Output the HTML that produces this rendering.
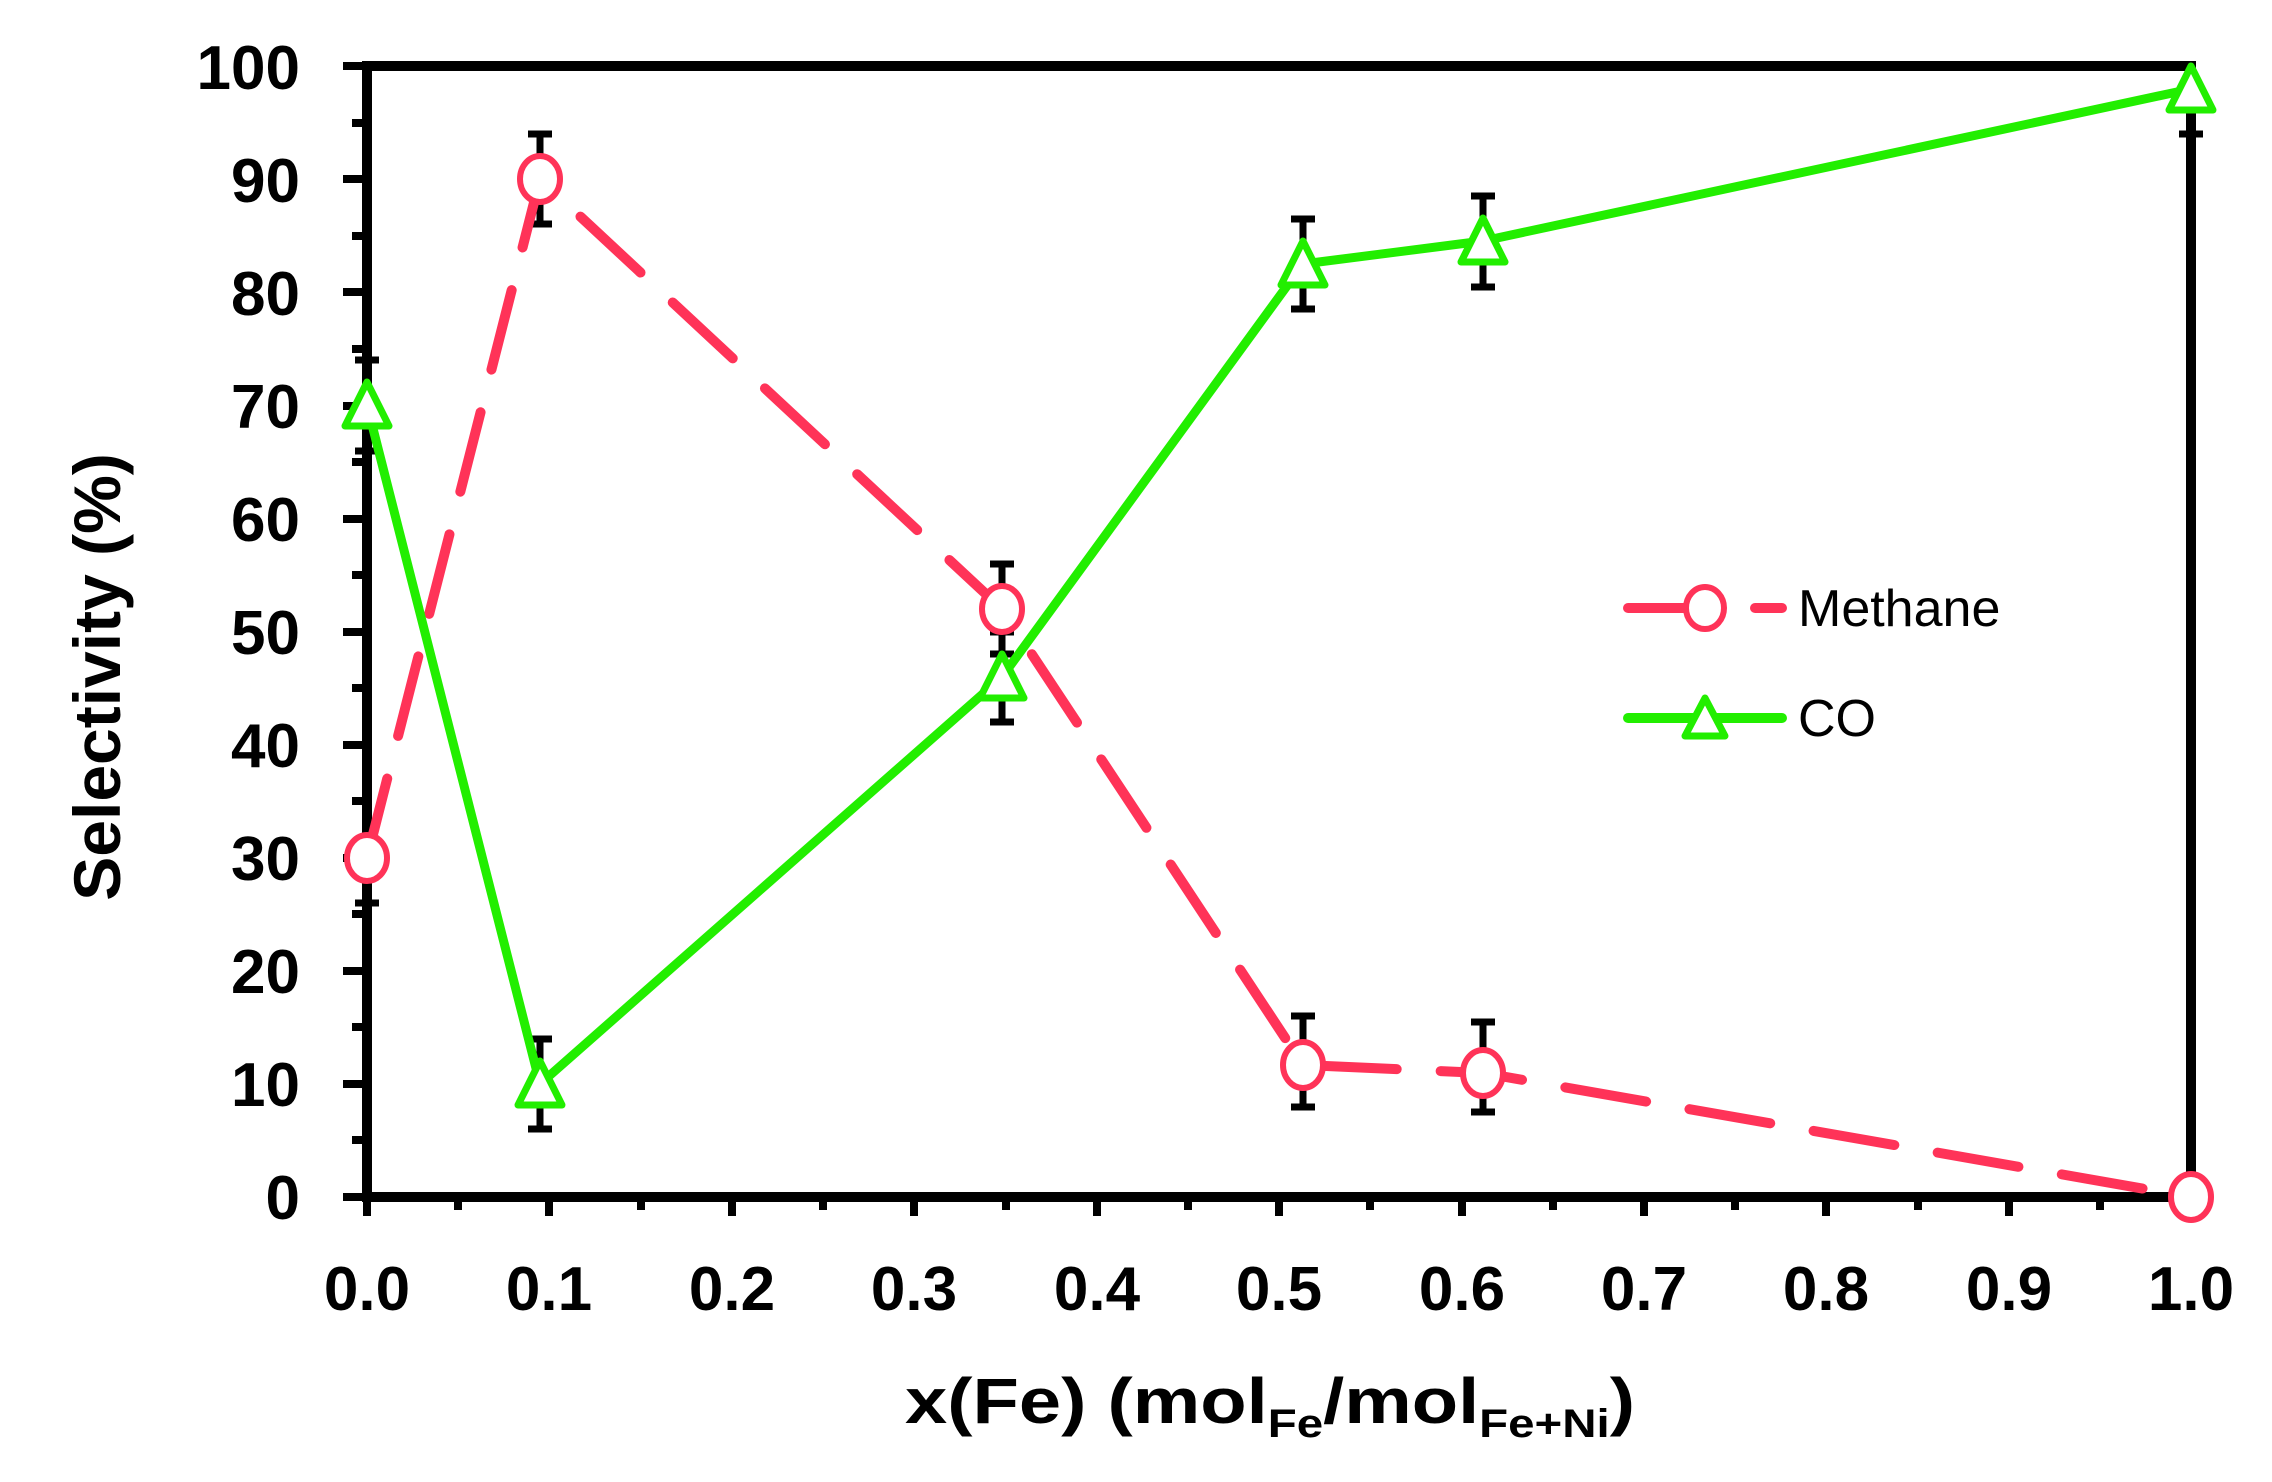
<!DOCTYPE html>
<html><head><meta charset="utf-8"><style>
html,body{margin:0;padding:0;background:#fff;}
svg{display:block;}
text{font-family:"Liberation Sans",sans-serif;font-weight:bold;fill:#000;}
</style></head><body>
<svg width="2272" height="1482" viewBox="0 0 2272 1482" xmlns="http://www.w3.org/2000/svg">
<g stroke="#000" stroke-width="8">
<line x1="343" y1="1197" x2="367" y2="1197"/><line x1="352" y1="1140" x2="367" y2="1140"/>
<line x1="343" y1="1084" x2="367" y2="1084"/><line x1="352" y1="1027" x2="367" y2="1027"/>
<line x1="343" y1="971" x2="367" y2="971"/><line x1="352" y1="914" x2="367" y2="914"/>
<line x1="343" y1="858" x2="367" y2="858"/><line x1="352" y1="801" x2="367" y2="801"/>
<line x1="343" y1="745" x2="367" y2="745"/><line x1="352" y1="688" x2="367" y2="688"/>
<line x1="343" y1="632" x2="367" y2="632"/><line x1="352" y1="575" x2="367" y2="575"/>
<line x1="343" y1="519" x2="367" y2="519"/><line x1="352" y1="462" x2="367" y2="462"/>
<line x1="343" y1="406" x2="367" y2="406"/><line x1="352" y1="349" x2="367" y2="349"/>
<line x1="343" y1="292" x2="367" y2="292"/><line x1="352" y1="236" x2="367" y2="236"/>
<line x1="343" y1="179" x2="367" y2="179"/><line x1="352" y1="123" x2="367" y2="123"/>
<line x1="343" y1="66" x2="367" y2="66"/>
</g>
<g stroke="#000" stroke-width="8">
<line x1="367" y1="1197" x2="367" y2="1216"/><line x1="458" y1="1197" x2="458" y2="1210"/>
<line x1="549" y1="1197" x2="549" y2="1216"/><line x1="641" y1="1197" x2="641" y2="1210"/>
<line x1="732" y1="1197" x2="732" y2="1216"/><line x1="823" y1="1197" x2="823" y2="1210"/>
<line x1="914" y1="1197" x2="914" y2="1216"/><line x1="1006" y1="1197" x2="1006" y2="1210"/>
<line x1="1097" y1="1197" x2="1097" y2="1216"/><line x1="1188" y1="1197" x2="1188" y2="1210"/>
<line x1="1279" y1="1197" x2="1279" y2="1216"/><line x1="1370" y1="1197" x2="1370" y2="1210"/>
<line x1="1462" y1="1197" x2="1462" y2="1216"/><line x1="1553" y1="1197" x2="1553" y2="1210"/>
<line x1="1644" y1="1197" x2="1644" y2="1216"/><line x1="1735" y1="1197" x2="1735" y2="1210"/>
<line x1="1826" y1="1197" x2="1826" y2="1216"/><line x1="1918" y1="1197" x2="1918" y2="1210"/>
<line x1="2009" y1="1197" x2="2009" y2="1216"/><line x1="2100" y1="1197" x2="2100" y2="1210"/>
<line x1="2191" y1="1197" x2="2191" y2="1216"/>
</g>
<rect x="367" y="66" width="1824" height="1131" fill="none" stroke="#000" stroke-width="10"/>
<g font-size="62" text-anchor="end">
<text x="300" y="1219">0</text><text x="300" y="1106">10</text><text x="300" y="993">20</text>
<text x="300" y="880">30</text><text x="300" y="767">40</text><text x="300" y="654">50</text>
<text x="300" y="541">60</text><text x="300" y="428">70</text><text x="300" y="315">80</text>
<text x="300" y="202">90</text><text x="300" y="89">100</text>
</g>
<g font-size="62" text-anchor="middle">
<text x="367" y="1310">0.0</text><text x="549" y="1310">0.1</text><text x="732" y="1310">0.2</text>
<text x="914" y="1310">0.3</text><text x="1097" y="1310">0.4</text><text x="1279" y="1310">0.5</text>
<text x="1462" y="1310">0.6</text><text x="1644" y="1310">0.7</text><text x="1826" y="1310">0.8</text>
<text x="2009" y="1310">0.9</text><text x="2191" y="1310">1.0</text>
</g>
<text x="905" y="1423" font-size="64" textLength="730" lengthAdjust="spacingAndGlyphs">x(Fe) (mol<tspan font-size="40" dy="14">Fe</tspan><tspan dy="-14">/mol</tspan><tspan font-size="40" dy="14">Fe+Ni</tspan><tspan dy="-14">)</tspan></text>
<text transform="translate(120,677) rotate(-90)" font-size="66" text-anchor="middle">Selectivity (%)</text>
<g stroke="#000" stroke-width="7" fill="none">
<path d="M540 134V224M528 134H552M528 224H552"/>
<path d="M1002 564V654M990 564H1014M990 654H1014"/>
<path d="M1303 1016V1107M1291 1016H1315M1291 1107H1315"/>
<path d="M1483 1022V1112M1471 1022H1495M1471 1112H1495"/>
<path d="M367 858V903M355 903H379"/>
<path d="M367 360V451M355 360H379M355 451H379"/>
<path d="M540 1039V1129M528 1039H552M528 1129H552"/>
<path d="M1002 632V722M990 632H1014M990 722H1014"/>
<path d="M1303 219V309M1291 219H1315M1291 309H1315"/>
<path d="M1483 196V287M1471 196H1495M1471 287H1495"/>
<path d="M2191 89V134M2179 134H2203"/>
</g>
<polyline points="367,858 540,179 1002,609 1303,1065 1483,1073 2191,1197" fill="none" stroke="#ff3358" stroke-width="10" stroke-dasharray="82,44" stroke-linecap="round"/>
<polyline points="367,405 540,1084 1002,677 1303,264 1483,241 2191,89" fill="none" stroke="#22ee00" stroke-width="9" stroke-linejoin="round"/>
<g fill="#fff" stroke="#ff3358" stroke-width="6">
<ellipse cx="367" cy="858" rx="20" ry="23"/><ellipse cx="540" cy="179" rx="20" ry="23"/>
<ellipse cx="1002" cy="609" rx="20" ry="23"/><ellipse cx="1303" cy="1065" rx="20" ry="23"/>
<ellipse cx="1483" cy="1073" rx="20" ry="23"/><ellipse cx="2191" cy="1197" rx="20" ry="23"/>
</g>
<g fill="#fff" stroke="#22ee00" stroke-width="7" stroke-linejoin="round">
<path d="M367 382 L389 426 L345 426Z"/><path d="M540 1061 L562 1105 L518 1105Z"/>
<path d="M1002 654 L1024 698 L980 698Z"/><path d="M1303 241 L1325 285 L1281 285Z"/>
<path d="M1483 218 L1505 262 L1461 262Z"/><path d="M2191 66 L2213 110 L2169 110Z"/>
</g>
<line x1="1628" y1="608" x2="1690" y2="608" stroke="#ff3358" stroke-width="10" stroke-linecap="round"/>
<line x1="1755" y1="608" x2="1782" y2="608" stroke="#ff3358" stroke-width="10" stroke-linecap="round"/>
<ellipse cx="1705" cy="608" rx="19" ry="21" fill="#fff" stroke="#ff3358" stroke-width="6"/>
<line x1="1628" y1="718" x2="1782" y2="718" stroke="#22ee00" stroke-width="10" stroke-linecap="round"/>
<path d="M1705 698 L1725 736 L1685 736Z" fill="#fff" stroke="#22ee00" stroke-width="7" stroke-linejoin="round"/>
<text x="1798" y="626" font-size="52" style="font-weight:normal">Methane</text>
<text x="1798" y="736" font-size="52" style="font-weight:normal">CO</text>
</svg>
</body></html>
